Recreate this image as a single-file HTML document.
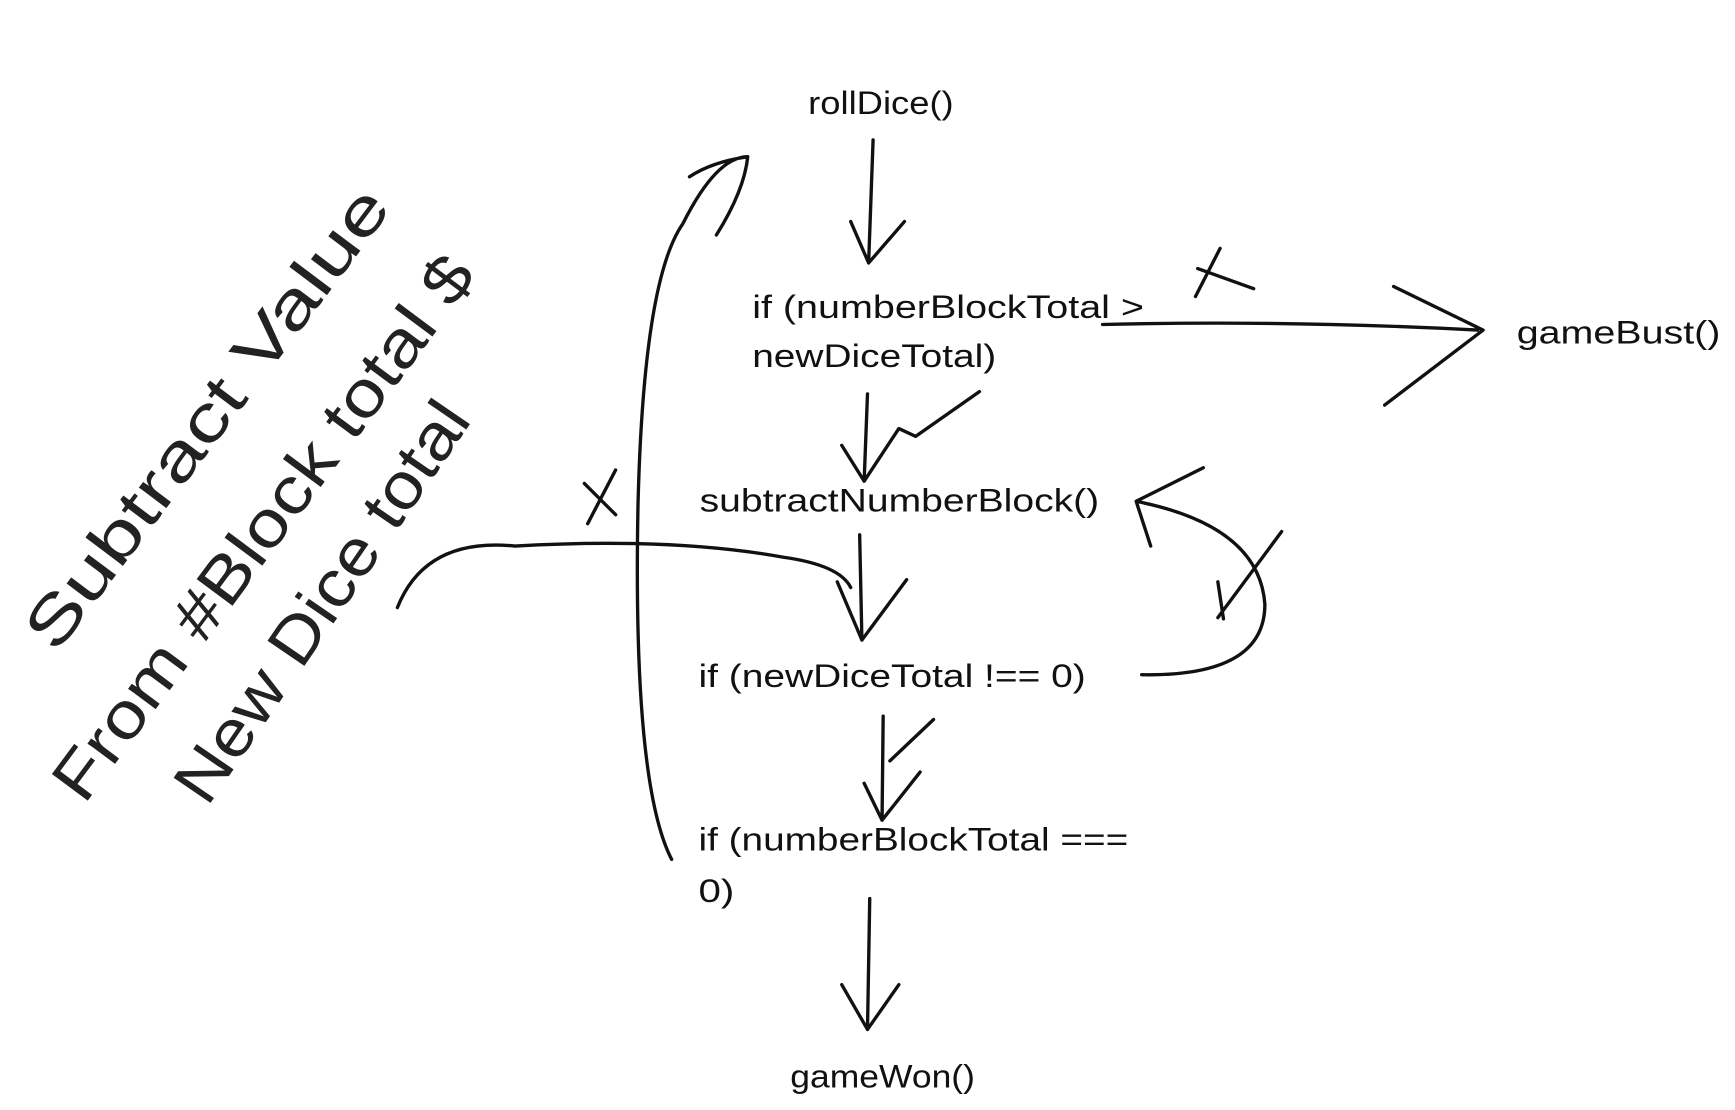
<!DOCTYPE html>
<html><head><meta charset="utf-8"><style>
html,body{margin:0;padding:0;background:#fff;width:1735px;height:1110px;overflow:hidden}
svg{display:block}
text{font-family:"Liberation Sans",sans-serif;font-size:29px;fill:#111}
path{fill:none;stroke:#111;stroke-width:3;stroke-linecap:round;stroke-linejoin:round}
.n{font-size:58px;fill:#222}
</style></head><body>
<svg width="1735" height="1110" viewBox="0 0 1550 992" preserveAspectRatio="none">
<text x="722" y="102" textLength="130" lengthAdjust="spacingAndGlyphs">rollDice()</text>
<text x="672" y="284" textLength="350" lengthAdjust="spacingAndGlyphs">if (numberBlockTotal &gt;</text>
<text x="672" y="328" textLength="218" lengthAdjust="spacingAndGlyphs">newDiceTotal)</text>
<text x="1355" y="307" textLength="182" lengthAdjust="spacingAndGlyphs">gameBust()</text>
<text x="625" y="457" textLength="357" lengthAdjust="spacingAndGlyphs">subtractNumberBlock()</text>
<text x="624" y="614" textLength="346" lengthAdjust="spacingAndGlyphs">if (newDiceTotal !== 0)</text>
<text x="624" y="760" textLength="384" lengthAdjust="spacingAndGlyphs">if (numberBlockTotal ===</text>
<text x="624" y="806" textLength="32" lengthAdjust="spacingAndGlyphs">0)</text>
<text x="706" y="972" textLength="165" lengthAdjust="spacingAndGlyphs">gameWon()</text>
<g transform="translate(50,585) rotate(-53)"><text class="n" x="0" y="0" textLength="500" lengthAdjust="spacingAndGlyphs">Subtract Value</text></g>
<g transform="translate(75,720) rotate(-53.4)"><text class="n" x="0" y="0" textLength="590" lengthAdjust="spacingAndGlyphs">From #Block total $</text></g>
<g transform="translate(185,722) rotate(-55.6)"><text class="n" x="0" y="0" textLength="420" lengthAdjust="spacingAndGlyphs">New Dice total</text></g>
<path d="M780 125 L776 235 M760 198 L776 235 L808 198"/>
<path d="M985 290 Q1150 286 1320 295 M1245 256 L1325 295 L1237 362"/>
<path d="M1070 240 L1120 258 M1090 222 L1068 265"/>
<path d="M775 352 L772 430 M752 398 L772 430 L803 383 L818 390 L875 350"/>
<path d="M768 478 L770 572 M748 520 L770 572 L810 518"/>
<path d="M355 543 Q380 480 460 488 Q600 480 700 498 Q750 505 760 525"/>
<path d="M600 768 Q565 700 570 450 Q575 250 610 200 Q640 140 668 140 Q665 170 640 210 M668 140 Q635 145 616 158"/>
<path d="M522 432 L550 460 M550 420 L525 468"/>
<path d="M1020 603 Q1130 605 1130 540 Q1125 470 1015 448 L1028 488 M1015 448 L1075 418"/>
<path d="M1088 552 L1145 475 M1088 520 L1093 553"/>
<path d="M789 640 L788 733 M772 700 L788 733 L822 690 M795 680 L834 643"/>
<path d="M777 803 L775 920 M752 880 L775 920 L803 880"/>
</svg>
</body></html>
